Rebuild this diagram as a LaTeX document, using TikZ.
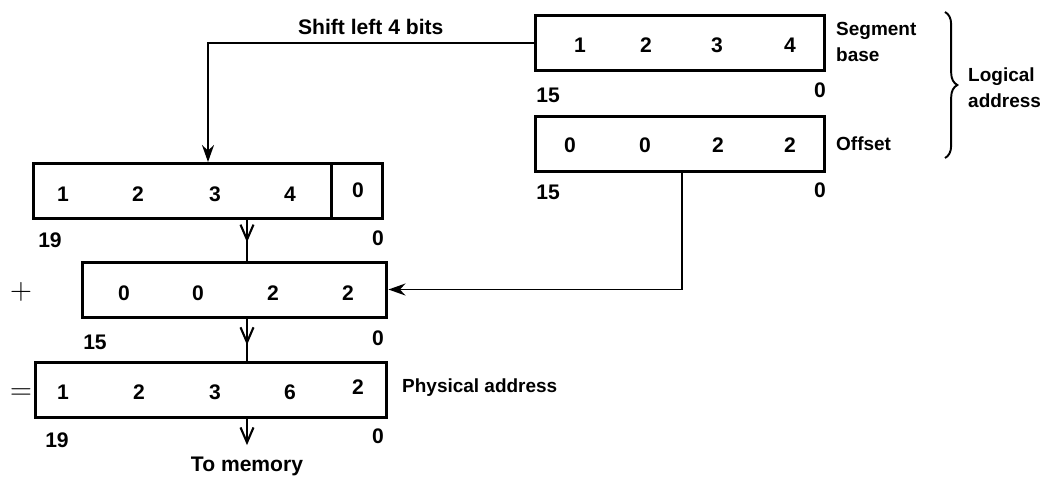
\documentclass[tikz,border=0pt]{standalone}
\usepackage{fontspec}
\setmainfont{Liberation Sans}
\usetikzlibrary{arrows.meta,decorations.markings,decorations.pathreplacing}

\begin{document}
\begin{tikzpicture}[x=0.02cm, y=-0.02cm,
    font=\fontsize{12}{14}\selectfont\bfseries,
    regbox/.style={draw, line width=1.7pt, minimum height=1.1cm, inner sep=0pt},
    sidetext/.style={anchor=west, align=left, font=\fontsize{10.8}{15}\selectfont\bfseries},
    link/.style={line width=1.1pt},
    barb/.style={-{Straight Barb[length=3mm,width=2.6mm,line width=1.2pt]}},
    tipin/.style={-{Stealth[length=3.4mm,width=2.4mm]}},
    midarrow/.style={decoration={markings,
        mark=at position #1 with {\arrow{Straight Barb[length=3mm,width=2.6mm,line width=1.2pt]}}},
        postaction={decorate}}]

    \useasboundingbox (0,0) rectangle (1043,478);

    % Logical address registers
    \node[regbox, minimum width=5.8cm] (segBox) at (680,43) {};
    \node[regbox, minimum width=5.8cm] (offBox) at (680,144) {};
    \foreach \x/\d in {580/1,646/2,717/3,790/4}
        \node at (\x,45) {\d};
    \foreach \x/\d in {570/0,645/0,718/2,790/2}
        \node at (\x,145) {\d};
    \node (segHi) at (548,95) {15};
    \node (segLo) at (820,90) {0};
    \node (offHi) at (548,192) {15};
    \node (offLo) at (820,190) {0};
    \node[sidetext] (segName) at (830,42) {Segment\\base};
    \node[sidetext] (offName) at (830,144) {Offset};

    % Brace
    \draw[line width=1.1pt, decorate, decoration={brace, amplitude=7pt}]
        (945,12) -- (945,158);
    \node[sidetext] (logName) at (962,88) {Logical\\address};

    % Shifted segment
    \node[regbox, minimum width=7cm] (shBox) at (208,191) {};
    \draw[line width=1.7pt] (331,163) -- (331,219);
    \foreach \x/\d in {63/1,138/2,215/3,290/4}
        \node at (\x,194) {\d};
    \node at (358,190) {0};
    \node (shHi) at (50,240) {19};
    \node (shLo) at (378,238) {0};

    % Offset copy
    \node[regbox, minimum width=6.1cm] (addBox) at (234.5,289.5) {};
    \foreach \x/\d in {124/0,198/0,273/2,348/2}
        \node at (\x,293) {\d};
    \node (addHi) at (95,342) {15};
    \node (addLo) at (378,338) {0};
    \node (plusSign) at (21,292) {\LARGE$+$};

    % Physical address
    \node[regbox, minimum width=7.04cm] (phyBox) at (211,389.5) {};
    \foreach \x/\d in {63/1,139/2,215/3,290/6}
        \node at (\x,392) {\d};
    \node at (358,387) {2};
    \node (phyHi) at (57,440) {19};
    \node (phyLo) at (378,436) {0};
    \node (eqSign) at (21,394) {\LARGE$=$};
    \node[sidetext] (phyName) at (396,388) {Physical address};
    \node (memory) at (247,466) {To memory};

    % Connectors
    \coordinate (tapX) at (247,0);
    \coordinate (offX) at (682,0);
    \draw[link, tipin] (segBox.west) -| (shBox.north)
        node[pos=0.25, above=1pt] {Shift left 4 bits};
    \draw[link, midarrow=0.55] (shBox.south -| tapX) -- (addBox.north -| tapX);
    \draw[link, tipin] (offBox.south -| offX) |- (addBox.east);
    \draw[link, midarrow=0.63] (addBox.south -| tapX) -- (phyBox.north -| tapX);
    \draw[link, barb] (phyBox.south -| tapX) -- ([yshift=3pt]memory.north);

\end{tikzpicture}
\end{document}
